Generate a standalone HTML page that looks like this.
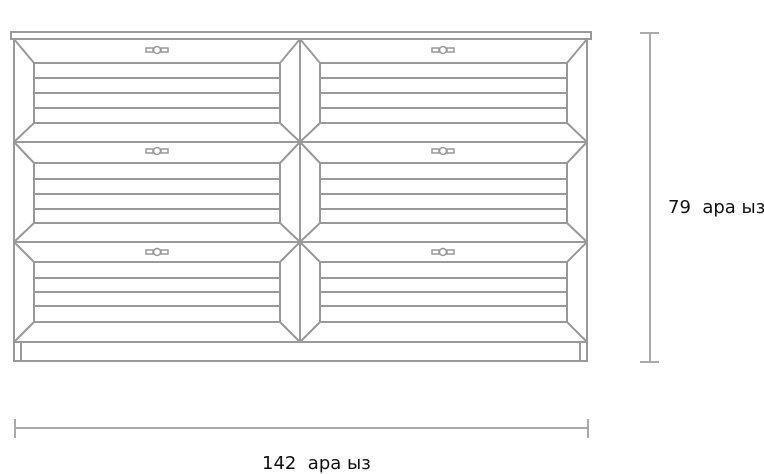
<!DOCTYPE html>
<html><head><meta charset="utf-8"><style>
html,body{margin:0;padding:0;background:#fff;width:764px;height:474px;overflow:hidden}
svg{display:block}
text{font-family:"DejaVu Sans","Liberation Sans",sans-serif;font-size:18px;fill:#111}
</style></head><body>
<svg width="764" height="474" viewBox="0 0 764 474" xmlns="http://www.w3.org/2000/svg">
<g fill="none" stroke="#999" stroke-width="2">
<rect x="11" y="32" width="580" height="7"/>
<rect x="14" y="39" width="573" height="322"/>
<line x1="300" y1="39" x2="300" y2="342"/>
<line x1="14" y1="142" x2="587" y2="142"/>
<line x1="14" y1="242" x2="587" y2="242"/>
<line x1="14" y1="342" x2="587" y2="342"/>
<line x1="21" y1="342" x2="21" y2="361"/>
<line x1="580" y1="342" x2="580" y2="361"/>

<rect x="34" y="63" width="246" height="60"/>
<rect x="320" y="63" width="247" height="60"/>
<path d="M34 78H280M34 93H280M34 108H280M320 78H567M320 93H567M320 108H567"/>
<path d="M14 39L34 63M300 39L280 63M14 142L34 123M300 142L280 123M300 39L320 63M587 39L567 63M300 142L320 123M587 142L567 123"/>
<rect x="34" y="163" width="246" height="60"/>
<rect x="320" y="163" width="247" height="60"/>
<path d="M34 179H280M34 194H280M34 209H280M320 179H567M320 194H567M320 209H567"/>
<path d="M14 142L34 163M300 142L280 163M14 242L34 223M300 242L280 223M300 142L320 163M587 142L567 163M300 242L320 223M587 242L567 223"/>
<rect x="34" y="262" width="246" height="60"/>
<rect x="320" y="262" width="247" height="60"/>
<path d="M34 278H280M34 292H280M34 306H280M320 278H567M320 292H567M320 306H567"/>
<path d="M14 242L34 262M300 242L280 262M14 342L34 322M300 342L280 322M300 242L320 262M587 242L567 262M300 342L320 322M587 342L567 322"/>
</g>
<g fill="#fff" stroke="#999" stroke-width="1.5">
<rect x="146" y="48" width="7" height="4"/><rect x="161" y="48" width="7" height="4"/><circle cx="157" cy="50" r="3.5"/>
<rect x="432" y="48" width="7" height="4"/><rect x="447" y="48" width="7" height="4"/><circle cx="443" cy="50" r="3.5"/>
<rect x="146" y="149" width="7" height="4"/><rect x="161" y="149" width="7" height="4"/><circle cx="157" cy="151" r="3.5"/>
<rect x="432" y="149" width="7" height="4"/><rect x="447" y="149" width="7" height="4"/><circle cx="443" cy="151" r="3.5"/>
<rect x="146" y="250" width="7" height="4"/><rect x="161" y="250" width="7" height="4"/><circle cx="157" cy="252" r="3.5"/>
<rect x="432" y="250" width="7" height="4"/><rect x="447" y="250" width="7" height="4"/><circle cx="443" cy="252" r="3.5"/>
</g>
<g stroke="#aaa" stroke-width="2" fill="none">
<path d="M640 33H659M650 33V362M640 362H659"/>
<path d="M15 419V438M15 428H588M588 419V438"/>
</g>
<text x="668" y="213">79&#160; ара ыз</text>
<text x="262" y="469">142&#160; ара ыз</text>
</svg>
</body></html>
